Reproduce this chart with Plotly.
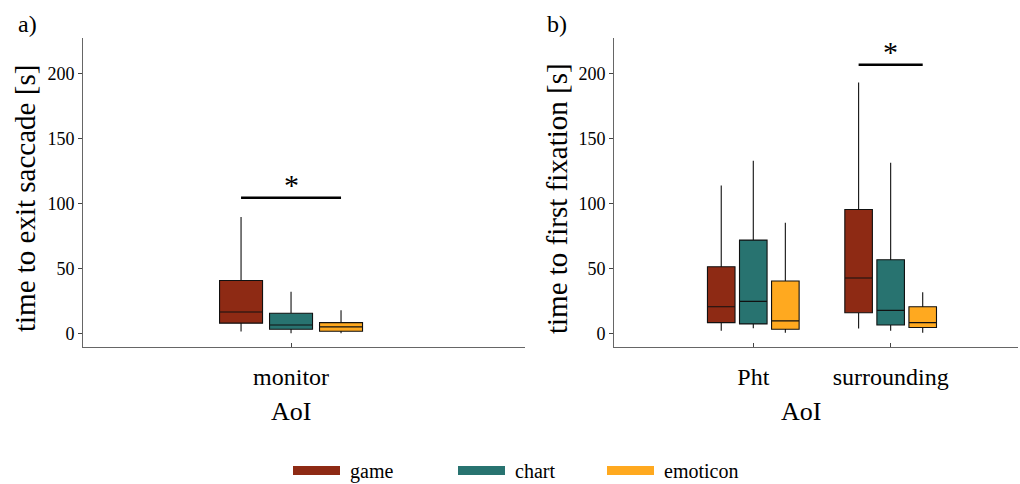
import plotly.graph_objects as go

W, H = 1020, 484

# ---------------- data ----------------
groups = ["game", "chart", "emoticon"]
colors = ["#8E2A14", "#287370", "#FFA91F"]

cats_a = ["monitor"]
a_lower = {"game": [1.8], "chart": [0.5], "emoticon": [0.5]}
a_q1 = {"game": [8.3], "chart": [3.6], "emoticon": [2.1]}
a_med = {"game": [16.9], "chart": [6.9], "emoticon": [5.4]}
a_q3 = {"game": [41.0], "chart": [15.9], "emoticon": [8.7]}
a_upper = {"game": [89.7], "chart": [32.4], "emoticon": [18.2]}

cats_b = ["Pht", "surrounding"]
b_lower = {"game": [2.5, 4.1], "chart": [4.3, 2.5], "emoticon": [1.0, 1.0]}
b_q1 = {"game": [8.7, 16.3], "chart": [7.7, 6.9], "emoticon": [3.6, 4.9]}
b_med = {"game": [20.9, 42.9], "chart": [25.0, 18.1], "emoticon": [10.0, 8.7]}
b_q3 = {"game": [51.6, 95.5], "chart": [72.0, 56.9], "emoticon": [40.6, 20.9]}
b_upper = {"game": [113.9, 192.9], "chart": [132.8, 131.3], "emoticon": [85.3, 31.9]}

y_ticks = [0, 50, 100, 150, 200]

# significance bars: panel, category index, bar height
sig_panel = ["a", "b"]
sig_cat = [0, 1]
sig_y = [104.4, 206.5]

FONT = "Liberation Serif"
BOXGAP = 0.30
BOXGROUPGAP = 0.14


def px_x(p):
    return p / W


def px_y(p):
    return 1 - p / H


fig = go.Figure()

for g, c in zip(groups, colors):
    fig.add_trace(go.Box(
        x=cats_a, q1=a_q1[g], median=a_med[g], q3=a_q3[g],
        lowerfence=a_lower[g], upperfence=a_upper[g],
        name=g, fillcolor=c, line=dict(color="#111111", width=1.1),
        whiskerwidth=0, boxpoints=False, showlegend=False,
        xaxis="x", yaxis="y", offsetgroup=g,
    ))
    fig.add_trace(go.Box(
        x=cats_b, q1=b_q1[g], median=b_med[g], q3=b_q3[g],
        lowerfence=b_lower[g], upperfence=b_upper[g],
        name=g, fillcolor=c, line=dict(color="#111111", width=1.1),
        whiskerwidth=0, boxpoints=False, showlegend=False,
        xaxis="x2", yaxis="y2", offsetgroup=g,
    ))

slot = (1 - BOXGAP) / 3
shapes = []
annotations = []
for p, ci, yv in zip(sig_panel, sig_cat, sig_y):
    xr = "x" if p == "a" else "x2"
    yr = "y" if p == "a" else "y2"
    shapes.append(dict(type="line", xref=xr, yref=yr, x0=ci - slot, x1=ci + slot,
                       y0=yv, y1=yv, line=dict(color="black", width=2.5)))
    annotations.append(dict(text="*", xref=xr, yref=yr, x=ci, y=yv - 4,
                            xanchor="center", yanchor="bottom", showarrow=False,
                            font=dict(family=FONT, size=30, color="black")))


def ann(text, x, y, size, xanchor="center", angle=0):
    annotations.append(dict(text=text, xref="paper", yref="paper", x=px_x(x), y=px_y(y),
                            xanchor=xanchor, yanchor="middle", showarrow=False,
                            textangle=angle,
                            font=dict(family=FONT, size=size, color="black")))


# panel labels
ann("a)", 27, 24, 24)
ann("b)", 557, 24, 24)
# axis titles
ann("AoI", 291, 411, 26)
ann("AoI", 801, 411, 26)
ann("time to exit saccade [s]", 25, 199, 29, angle=-90)
ann("time to first fixation [s]", 557, 199, 29, angle=-90)

# legend (swatches + labels)
leg_x = [293, 458, 607]
for g, c, lx in zip(groups, colors, leg_x):
    shapes.append(dict(type="rect", xref="paper", yref="paper",
                       x0=px_x(lx), x1=px_x(lx + 47), y0=px_y(475), y1=px_y(466),
                       fillcolor=c, line=dict(width=0)))
    ann(g, lx + 55, 471, 20, xanchor="left")

yaxis_common = dict(range=[-10, 227], tickvals=y_ticks, ticks="outside", ticklen=4,
                    tickcolor="#444", showline=True, linecolor="#666", linewidth=1,
                    showgrid=False, zeroline=False,
                    tickfont=dict(family=FONT, size=18, color="black"),
                    domain=[px_y(347), px_y(38)])
xaxis_common = dict(type="category", ticks="inside", ticklen=4, tickcolor="#444",
                    showline=True, linecolor="#666", linewidth=1, showgrid=False,
                    ticklabelstandoff=8,
                    tickfont=dict(family=FONT, size=24, color="black"))

fig.update_layout(
    width=W, height=H,
    margin=dict(l=0, r=0, t=0, b=0),
    paper_bgcolor="white", plot_bgcolor="white",
    boxmode="group", boxgap=BOXGAP, boxgroupgap=BOXGROUPGAP,
    showlegend=False,
    xaxis=dict(xaxis_common, domain=[px_x(83), px_x(525)], range=[-0.971, 1.092],
               anchor="y"),
    yaxis=dict(yaxis_common, anchor="x"),
    xaxis2=dict(xaxis_common, domain=[px_x(614), px_x(1018)], range=[-1.014, 1.927],
                anchor="y2"),
    yaxis2=dict(yaxis_common, anchor="x2"),
    shapes=shapes, annotations=annotations,
)

fig.write_html("out.html", config={"displayModeBar": False},
               post_script="document.body.style.margin='0px';document.body.style.padding='0px';")
